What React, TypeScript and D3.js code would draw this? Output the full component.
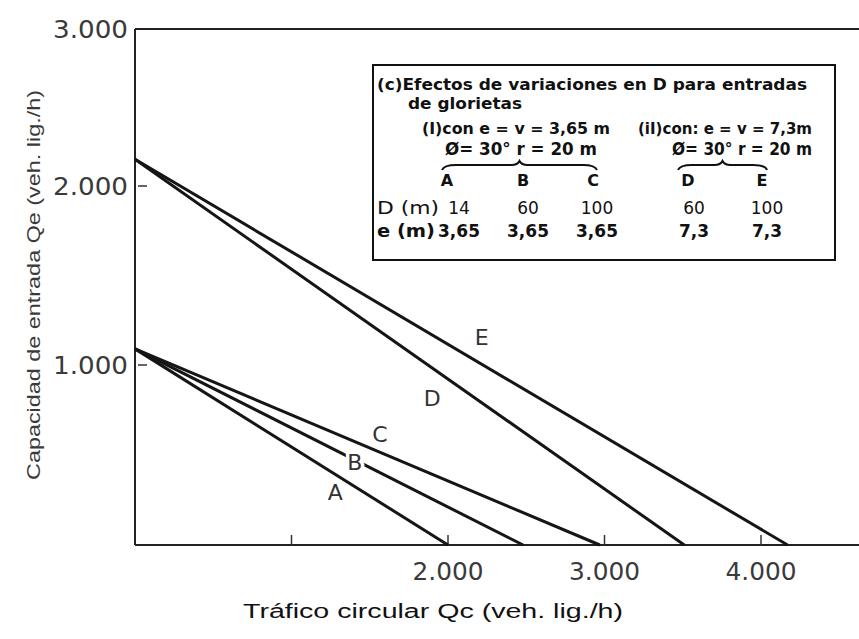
import * as d3 from 'd3';

// Curves A-E: capacity at Qc = 0 and the Qc where capacity reaches 0
const curves = ['A', 'B', 'C', 'D', 'E'];
const intercepts = [1090, 1090, 1090, 2170, 2170];
const zeroCrossings = [2000, 2480, 2970, 3510, 4170];

// where each curve letter sits (data units)
const labelQc = [1280, 1405, 1565, 1900, 2215];
const labelQe = [290, 460, 615, 815, 1155];

// axis ticks
const xTicks = [1000, 2000, 3000, 4000];
const xTickLabels = ['', '2.000', '3.000', '4.000'];
const yTicks = [1000, 2000, 3000];
const yTickLabels = ['1.000', '2.000', '3.000'];

// legend table
const tableD = ['14', '60', '100', '60', '100'];
const tableE = ['3,65', '3,65', '3,65', '7,3', '7,3'];

const W = 859;
const H = 639;

const tickFont = '"DejaVu Sans", "Noto Sans", sans-serif';
const boxFont = '"DejaVu Sans", sans-serif';

// the scanned axis is not quite uniform, so the y scale follows the printed ticks
const x = d3.scaleLinear().domain([0, 4000]).range([135, 761]);
const y = d3.scaleLinear().domain([0, 1000, 2000, 3000]).range([545, 365, 186, 29]);

const line = d3
	.line<{ qc: number; qe: number }>()
	.x((d) => x(d.qc))
	.y((d) => y(d.qe));

// horizontal curly brace, peak pointing up
function brace(x0: number, x1: number, yTop: number) {
	const m = (x0 + x1) / 2;
	const yb = yTop + 7;
	return `M${x0},${yb} Q${x0 + 2},${yTop + 2} ${x0 + 14},${yTop + 2} L${m - 8},${yTop + 2} Q${m - 2},${yTop + 2} ${m},${yTop - 2} Q${m + 2},${yTop + 2} ${m + 8},${yTop + 2} L${x1 - 14},${yTop + 2} Q${x1 - 2},${yTop + 2} ${x1},${yb}`;
}

export default function App() {
	const x0 = x(0);
	const xEnd = W;
	const yTop = y(3000);
	const yBottom = y(0);

	const letterCols = [447, 523, 593, 688, 762];
	const valueCols = [459, 528, 597, 694, 767];

	return (
		<svg
			width={W}
			height={H}
			style={{ position: 'absolute', left: 0, top: 0, background: '#fff' }}
		>
			{/* frame: left, top and bottom only */}
			<g stroke="#222" strokeWidth={2} fill="none">
				<line x1={x0} y1={yTop} x2={x0} y2={yBottom} />
				<line x1={x0} y1={yTop} x2={xEnd} y2={yTop} />
				<line x1={x0} y1={yBottom} x2={xEnd} y2={yBottom} />
			</g>

			{/* y ticks */}
			{yTicks.map((t, i) => (
				<g key={'y' + t}>
					{t < 3000 && (
						<line x1={x0 + 3} x2={x0 + 12} y1={y(t)} y2={y(t)} stroke="#333" strokeWidth={1.5} />
					)}
					<text
						x={128}
						y={y(t) + 9}
						textAnchor="end"
						fontFamily={tickFont}
						fontSize={24}
						fill="#3a3a3a"
						textLength={75}
						lengthAdjust="spacingAndGlyphs"
					>
						{yTickLabels[i]}
					</text>
				</g>
			))}

			{/* x ticks */}
			{xTicks.map((t, i) => (
				<g key={'x' + t}>
					<line x1={x(t)} x2={x(t)} y1={yBottom} y2={yBottom - 10} stroke="#333" strokeWidth={1.5} />
					{xTickLabels[i] && (
						<text
							x={x(t)}
							y={580}
							textAnchor="middle"
							fontFamily={tickFont}
							fontSize={24}
							fill="#3a3a3a"
							textLength={71}
							lengthAdjust="spacingAndGlyphs"
						>
							{xTickLabels[i]}
						</text>
					)}
				</g>
			))}

			{/* curves */}
			{curves.map((c, i) => (
				<path
					key={'c' + c}
					d={
						line([
							{ qc: 0, qe: intercepts[i] },
							{ qc: zeroCrossings[i], qe: 0 },
						]) || ''
					}
					stroke="#151515"
					strokeWidth={3}
					fill="none"
				/>
			))}

			{/* curve letters; the white halo breaks the line like the print does */}
			{curves.map((c, i) => (
				<text
					key={'l' + c}
					x={x(labelQc[i])}
					y={y(labelQe[i])}
					textAnchor="middle"
					dominantBaseline="central"
					fontFamily={tickFont}
					fontSize={22}
					fill="#333"
					stroke="#fff"
					strokeWidth={c === 'B' ? 7 : 0}
					paintOrder="stroke"
				>
					{c}
				</text>
			))}

			{/* legend box */}
			<rect x={373} y={65} width={462} height={195} fill="#fff" stroke="#111" strokeWidth={2} />
			<g fontFamily={boxFont} fill="#111">
				<text x={377} y={90} fontSize={15} fontWeight="bold" textLength={430} lengthAdjust="spacingAndGlyphs">
					(c)Efectos de variaciones en D para entradas
				</text>
				<text x={408} y={109} fontSize={15} fontWeight="bold" textLength={114} lengthAdjust="spacingAndGlyphs">
					de glorietas
				</text>
				<text x={422} y={134} fontSize={16} fontWeight="bold" textLength={188} lengthAdjust="spacingAndGlyphs">
					(I)con e = v = 3,65 m
				</text>
				<text x={638} y={134} fontSize={16} fontWeight="bold" textLength={174} lengthAdjust="spacingAndGlyphs">
					(iI)con: e = v = 7,3m
				</text>
				<text x={445} y={155} fontSize={18} fontWeight="bold" textLength={152} lengthAdjust="spacingAndGlyphs">
					Ø= 30° r = 20 m
				</text>
				<text x={672} y={155} fontSize={18} fontWeight="bold" textLength={140} lengthAdjust="spacingAndGlyphs">
					Ø= 30° r = 20 m
				</text>
				<path d={brace(442, 597, 163)} stroke="#111" strokeWidth={2} fill="none" />
				<path d={brace(678, 767, 163)} stroke="#111" strokeWidth={2} fill="none" />

				{curves.map((c, i) => (
					<text key={'h' + c} x={letterCols[i]} y={186} textAnchor="middle" fontSize={16} fontWeight="bold">
						{c}
					</text>
				))}

				<text x={377} y={214} fontSize={17} textLength={62} lengthAdjust="spacingAndGlyphs">
					D (m)
				</text>
				{tableD.map((v, i) => (
					<text key={'d' + i} x={valueCols[i]} y={214} textAnchor="middle" fontSize={17}>
						{v}
					</text>
				))}
				<text x={377} y={237} fontSize={17} fontWeight="bold" textLength={58} lengthAdjust="spacingAndGlyphs">
					e (m)
				</text>
				{tableE.map((v, i) => (
					<text key={'e' + i} x={valueCols[i]} y={237} textAnchor="middle" fontSize={17} fontWeight="bold">
						{v}
					</text>
				))}
			</g>

			{/* axis titles */}
			<text
				x={433}
				y={618}
				textAnchor="middle"
				fontFamily='"Liberation Sans Narrow", "Liberation Sans", sans-serif'
				fontSize={20}
				fill="#111"
				textLength={380}
				lengthAdjust="spacingAndGlyphs"
			>
				Tráfico circular Qc (veh. lig./h)
			</text>
			<text
				transform="translate(40,285) rotate(-90)"
				textAnchor="middle"
				fontFamily='"Liberation Sans", sans-serif'
				fontSize={19}
				fill="#3a3a3a"
				textLength={390}
				lengthAdjust="spacingAndGlyphs"
			>
				Capacidad de entrada Qe (veh. lig./h)
			</text>
		</svg>
	);
}
